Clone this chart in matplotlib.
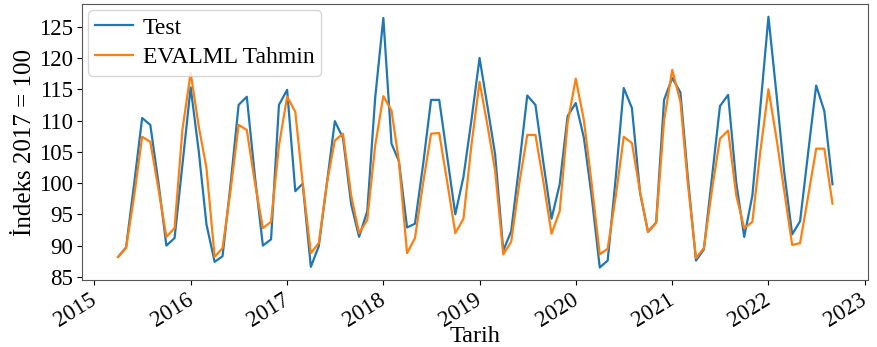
import numpy as np
import pandas as pd
import matplotlib
matplotlib.use("Agg")
import matplotlib.pyplot as plt
import matplotlib.dates as mdates
import matplotlib.transforms as mtransforms
from matplotlib.ticker import MultipleLocator

# monthly index, 2015-04 .. 2022-09
dates = pd.date_range("2015-04-01", "2022-09-01", freq="MS")

test = [
    88.2, 89.7, 100.0, 110.4, 109.3, 100.0, 90.0, 91.2, 103.0,                        # 2015
    115.3, 105.0, 93.4, 87.4, 88.3, 100.0, 112.5, 113.8, 101.0, 90.0, 91.0, 112.5,    # 2016
    114.9, 98.7, 99.9, 86.6, 89.9, 100.0, 109.9, 107.2, 96.6, 91.4, 95.5, 113.6,      # 2017
    126.4, 106.3, 103.5, 92.9, 93.5, 103.0, 113.3, 113.3, 104.0, 95.0, 101.0, 110.0,  # 2018
    120.0, 112.0, 104.6, 89.2, 92.3, 103.0, 114.0, 112.5, 103.0, 94.3, 99.8, 110.7,   # 2019
    112.8, 107.2, 98.0, 86.5, 87.6, 101.0, 115.2, 112.0, 98.4, 92.2, 93.7, 113.3,     # 2020
    116.8, 114.5, 101.0, 87.6, 89.4, 101.0, 112.3, 114.1, 100.0, 91.4, 98.0, 112.0,   # 2021
    126.6, 114.0, 102.0, 91.8, 93.9, 105.0, 115.6, 111.5, 99.8,                       # 2022
]

tahmin = [
    88.2, 89.6, 98.0, 107.4, 106.6, 99.0, 91.4, 92.8, 108.6,                          # 2015
    117.6, 109.0, 102.4, 88.2, 89.6, 99.0, 109.3, 108.5, 100.0, 92.8, 93.8, 106.0,    # 2016
    113.8, 111.4, 100.0, 88.8, 90.4, 100.0, 106.8, 107.9, 98.0, 92.0, 94.1, 106.0,    # 2017
    113.9, 111.6, 103.5, 88.8, 91.2, 100.0, 107.9, 108.0, 100.0, 92.0, 94.3, 106.0,   # 2018
    116.2, 109.0, 102.0, 88.6, 90.6, 100.0, 107.7, 107.7, 100.0, 91.9, 95.5, 109.6,   # 2019
    116.7, 110.0, 100.0, 88.6, 89.5, 98.0, 107.4, 106.4, 98.6, 92.2, 93.6, 110.0,     # 2020
    118.1, 113.0, 100.0, 88.0, 89.6, 99.0, 107.1, 108.4, 98.0, 92.8, 93.8, 105.0,     # 2021
    115.0, 107.0, 99.0, 90.1, 90.4, 98.0, 105.5, 105.5, 96.7,                         # 2022
]

plt.rcParams["font.family"] = ["Liberation Serif", "DejaVu Serif"]

fig = plt.figure(figsize=(8.77, 3.47), dpi=100)
ax = fig.add_axes([0.094, 0.193, 0.896, 0.795])

ax.plot(dates, test, color="#1f77b4", lw=1.6, label="Test")
ax.plot(dates, tahmin, color="#ff7f0e", lw=1.6, label="EVALML Tahmin")

ax.yaxis.set_major_locator(MultipleLocator(5))
ax.xaxis.set_major_locator(mdates.YearLocator())
ax.xaxis.set_major_formatter(mdates.DateFormatter("%Y"))
ax.tick_params(labelsize=16.5)
# rotated year labels, nudged a little to the right of their ticks
nudge = mtransforms.ScaledTranslation(6 / 100, 0, fig.dpi_scale_trans)
for lbl in ax.get_xticklabels():
    lbl.set_rotation(32)
    lbl.set_ha("right")
    lbl.set_transform(lbl.get_transform() + nudge)

for s in ax.spines.values():
    s.set_color("#555555")

ax.set_xlabel("Tarih", fontsize=17.5, labelpad=-4)
ax.set_ylabel("İndeks 2017 = 100", fontsize=18, labelpad=2)
ax.legend(loc="upper left", fontsize=17, handlelength=1.6, handletextpad=0.4,
          borderpad=0.3, labelspacing=0.35, borderaxespad=0.25)

fig.savefig("out.png", dpi=100)
